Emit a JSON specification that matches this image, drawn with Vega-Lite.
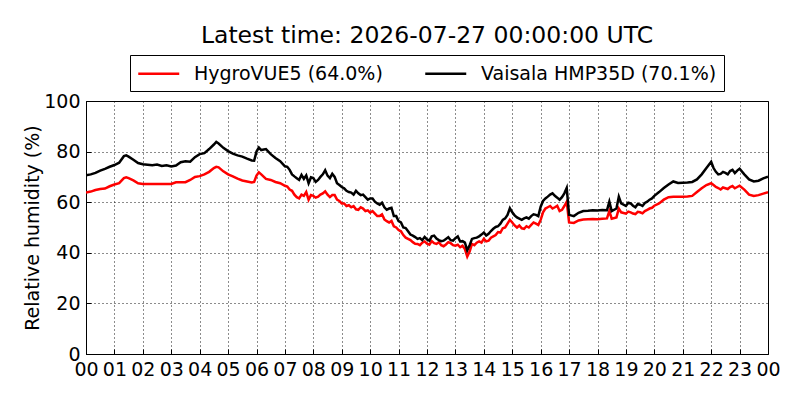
{
  "$schema": "https://vega.github.io/schema/vega-lite/v6.json",
  "autosize": {"type": "none"},
  "width": 682,
  "height": 253,
  "padding": {"left": 86, "top": 101, "right": 32, "bottom": 46},
  "background": "white",
  "config": {
    "font": "DejaVu Sans",
    "view": {"stroke": "black", "strokeWidth": 1}
  },
  "title": {
    "text": "Latest time: 2026-07-27 00:00:00 UTC",
    "font": "DejaVu Sans",
    "fontSize": 23.5,
    "fontWeight": "normal",
    "color": "black",
    "anchor": "middle",
    "baseline": "alphabetic",
    "offset": -11.5
  },
  "data": {
    "values": [
      {"m": 0, "h": 63.8, "v": 70.6},
      {"m": 10, "h": 64.2, "v": 71.0},
      {"m": 20, "h": 64.8, "v": 71.6},
      {"m": 30, "h": 65.2, "v": 72.5},
      {"m": 40, "h": 65.4, "v": 73.2},
      {"m": 50, "h": 66.3, "v": 74.0},
      {"m": 60, "h": 67.0, "v": 74.7},
      {"m": 70, "h": 67.5, "v": 75.6},
      {"m": 80, "h": 69.5, "v": 78.2},
      {"m": 85, "h": 69.8, "v": 78.5},
      {"m": 90, "h": 69.5, "v": 78.0},
      {"m": 100, "h": 68.6, "v": 76.8},
      {"m": 110, "h": 67.5, "v": 75.5},
      {"m": 120, "h": 67.2, "v": 75.0},
      {"m": 130, "h": 67.2, "v": 74.8},
      {"m": 140, "h": 67.2, "v": 74.6},
      {"m": 150, "h": 67.2, "v": 74.9},
      {"m": 160, "h": 67.2, "v": 74.3},
      {"m": 170, "h": 67.2, "v": 74.6},
      {"m": 180, "h": 67.2, "v": 74.1},
      {"m": 190, "h": 67.9, "v": 74.5},
      {"m": 200, "h": 67.9, "v": 75.8},
      {"m": 210, "h": 67.9, "v": 76.2},
      {"m": 220, "h": 68.8, "v": 76.0},
      {"m": 230, "h": 70.0, "v": 77.8},
      {"m": 240, "h": 70.3, "v": 79.0},
      {"m": 250, "h": 71.0, "v": 79.4},
      {"m": 260, "h": 72.0, "v": 81.0},
      {"m": 270, "h": 73.5, "v": 82.8},
      {"m": 275, "h": 74.0, "v": 83.8},
      {"m": 280, "h": 73.8, "v": 83.2},
      {"m": 290, "h": 72.2, "v": 81.5},
      {"m": 300, "h": 71.0, "v": 80.2},
      {"m": 310, "h": 70.2, "v": 79.2},
      {"m": 320, "h": 69.3, "v": 78.5},
      {"m": 330, "h": 68.6, "v": 78.0},
      {"m": 340, "h": 68.2, "v": 77.2},
      {"m": 350, "h": 67.8, "v": 76.5},
      {"m": 355, "h": 68.0, "v": 76.4},
      {"m": 360, "h": 70.5, "v": 80.0},
      {"m": 365, "h": 71.8, "v": 81.6},
      {"m": 370, "h": 71.0, "v": 80.6},
      {"m": 380, "h": 69.2, "v": 81.0},
      {"m": 390, "h": 68.8, "v": 79.0},
      {"m": 400, "h": 68.0, "v": 77.5},
      {"m": 410, "h": 67.5, "v": 76.2},
      {"m": 420, "h": 66.5, "v": 74.2},
      {"m": 425, "h": 66.2, "v": 74.0},
      {"m": 430, "h": 65.0, "v": 72.8},
      {"m": 435, "h": 64.5, "v": 71.0},
      {"m": 440, "h": 63.0, "v": 70.2},
      {"m": 445, "h": 62.0, "v": 69.5},
      {"m": 450, "h": 61.5, "v": 68.8},
      {"m": 455, "h": 63.0, "v": 70.8},
      {"m": 460, "h": 62.5, "v": 69.2},
      {"m": 465, "h": 64.0, "v": 70.6},
      {"m": 470, "h": 61.0, "v": 67.5},
      {"m": 475, "h": 62.8, "v": 69.8},
      {"m": 480, "h": 62.5, "v": 69.5},
      {"m": 485, "h": 61.8, "v": 68.0},
      {"m": 490, "h": 62.2, "v": 68.8},
      {"m": 495, "h": 63.0, "v": 70.0},
      {"m": 500, "h": 63.5, "v": 71.0},
      {"m": 505, "h": 64.3, "v": 72.6},
      {"m": 510, "h": 63.0, "v": 70.5},
      {"m": 515, "h": 62.0, "v": 69.5},
      {"m": 520, "h": 62.8, "v": 71.2},
      {"m": 525, "h": 62.8, "v": 70.0},
      {"m": 530, "h": 61.0, "v": 67.5},
      {"m": 535, "h": 60.5, "v": 66.8},
      {"m": 540, "h": 59.5, "v": 66.0},
      {"m": 545, "h": 59.5, "v": 65.5},
      {"m": 550, "h": 58.5, "v": 64.5},
      {"m": 555, "h": 58.8, "v": 64.0},
      {"m": 560, "h": 58.0, "v": 63.8},
      {"m": 565, "h": 58.5, "v": 63.0},
      {"m": 570, "h": 57.2, "v": 64.5},
      {"m": 575, "h": 57.0, "v": 63.5},
      {"m": 580, "h": 58.0, "v": 62.8},
      {"m": 585, "h": 57.5, "v": 63.0},
      {"m": 590, "h": 56.5, "v": 62.0},
      {"m": 595, "h": 56.8, "v": 61.0},
      {"m": 600, "h": 55.9, "v": 61.5},
      {"m": 605, "h": 56.5, "v": 61.5},
      {"m": 610, "h": 55.5, "v": 60.2},
      {"m": 615, "h": 54.5, "v": 59.5},
      {"m": 620, "h": 54.5, "v": 59.0},
      {"m": 625, "h": 55.2, "v": 59.8},
      {"m": 630, "h": 53.2, "v": 58.0},
      {"m": 635, "h": 52.5, "v": 57.0},
      {"m": 640, "h": 52.0, "v": 57.5},
      {"m": 645, "h": 52.6, "v": 57.8},
      {"m": 650, "h": 50.5, "v": 54.5},
      {"m": 655, "h": 50.0, "v": 54.5},
      {"m": 660, "h": 49.0, "v": 52.5},
      {"m": 665, "h": 48.5, "v": 52.0},
      {"m": 670, "h": 47.0, "v": 50.0},
      {"m": 675, "h": 46.0, "v": 49.8},
      {"m": 680, "h": 45.5, "v": 48.5},
      {"m": 685, "h": 45.0, "v": 47.2},
      {"m": 690, "h": 44.2, "v": 46.8},
      {"m": 695, "h": 43.6, "v": 46.2},
      {"m": 700, "h": 43.5, "v": 45.5},
      {"m": 705, "h": 43.0, "v": 45.8},
      {"m": 710, "h": 44.0, "v": 45.0},
      {"m": 715, "h": 44.5, "v": 46.3},
      {"m": 720, "h": 43.6, "v": 45.3},
      {"m": 725, "h": 43.2, "v": 44.8},
      {"m": 730, "h": 44.6, "v": 46.5},
      {"m": 735, "h": 43.8, "v": 46.8},
      {"m": 740, "h": 43.5, "v": 45.6},
      {"m": 745, "h": 44.2, "v": 45.0},
      {"m": 750, "h": 43.0, "v": 44.6},
      {"m": 755, "h": 42.6, "v": 44.8},
      {"m": 760, "h": 43.3, "v": 45.5},
      {"m": 765, "h": 44.2, "v": 46.2},
      {"m": 770, "h": 43.8, "v": 45.0},
      {"m": 775, "h": 43.0, "v": 44.8},
      {"m": 780, "h": 42.8, "v": 45.8},
      {"m": 785, "h": 43.2, "v": 46.5},
      {"m": 790, "h": 42.2, "v": 44.5},
      {"m": 795, "h": 42.8, "v": 44.6},
      {"m": 800, "h": 41.5, "v": 44.0},
      {"m": 805, "h": 38.5, "v": 41.0},
      {"m": 810, "h": 40.5, "v": 43.0},
      {"m": 815, "h": 43.5, "v": 45.5},
      {"m": 820, "h": 43.0, "v": 45.8},
      {"m": 825, "h": 44.0, "v": 46.0},
      {"m": 830, "h": 44.5, "v": 46.5},
      {"m": 835, "h": 44.0, "v": 47.2},
      {"m": 840, "h": 45.5, "v": 48.0},
      {"m": 845, "h": 44.5, "v": 46.8},
      {"m": 850, "h": 44.8, "v": 47.5},
      {"m": 855, "h": 46.0, "v": 48.6},
      {"m": 860, "h": 46.5, "v": 49.5},
      {"m": 865, "h": 47.0, "v": 50.2},
      {"m": 870, "h": 48.2, "v": 50.5},
      {"m": 875, "h": 48.0, "v": 51.5},
      {"m": 880, "h": 49.7, "v": 53.0},
      {"m": 885, "h": 50.0, "v": 53.6},
      {"m": 890, "h": 51.5, "v": 55.0},
      {"m": 895, "h": 53.0, "v": 57.6},
      {"m": 900, "h": 52.0, "v": 56.0},
      {"m": 905, "h": 50.8, "v": 54.8},
      {"m": 910, "h": 50.0, "v": 54.0},
      {"m": 915, "h": 50.8, "v": 53.5},
      {"m": 920, "h": 49.7, "v": 53.0},
      {"m": 925, "h": 49.5, "v": 53.6},
      {"m": 930, "h": 50.5, "v": 54.0},
      {"m": 935, "h": 50.0, "v": 53.5},
      {"m": 940, "h": 51.0, "v": 54.5},
      {"m": 945, "h": 52.0, "v": 55.2},
      {"m": 950, "h": 51.5, "v": 55.0},
      {"m": 955, "h": 51.0, "v": 54.5},
      {"m": 960, "h": 53.0, "v": 58.2},
      {"m": 965, "h": 56.0, "v": 60.5},
      {"m": 970, "h": 57.5, "v": 61.5},
      {"m": 975, "h": 58.0, "v": 62.2},
      {"m": 980, "h": 58.5, "v": 63.0},
      {"m": 985, "h": 57.5, "v": 63.5},
      {"m": 990, "h": 58.0, "v": 62.5},
      {"m": 995, "h": 58.6, "v": 61.8},
      {"m": 1000, "h": 56.5, "v": 61.0},
      {"m": 1005, "h": 57.0, "v": 62.0},
      {"m": 1010, "h": 58.5, "v": 63.5},
      {"m": 1015, "h": 60.2, "v": 65.6},
      {"m": 1020, "h": 52.0, "v": 55.0},
      {"m": 1030, "h": 51.8, "v": 54.5},
      {"m": 1040, "h": 52.8, "v": 55.8},
      {"m": 1050, "h": 53.2, "v": 56.5},
      {"m": 1060, "h": 53.3, "v": 56.6},
      {"m": 1070, "h": 53.4, "v": 56.8},
      {"m": 1080, "h": 53.3, "v": 56.7},
      {"m": 1090, "h": 53.5, "v": 56.9},
      {"m": 1100, "h": 53.6, "v": 56.8},
      {"m": 1105, "h": 56.5, "v": 60.2},
      {"m": 1110, "h": 53.5, "v": 56.5},
      {"m": 1120, "h": 54.0, "v": 57.5},
      {"m": 1125, "h": 57.5, "v": 62.2},
      {"m": 1130, "h": 56.0, "v": 59.5},
      {"m": 1140, "h": 55.5, "v": 58.5},
      {"m": 1145, "h": 56.3, "v": 59.8},
      {"m": 1150, "h": 56.0, "v": 59.5},
      {"m": 1155, "h": 55.5, "v": 58.6},
      {"m": 1160, "h": 55.3, "v": 58.0},
      {"m": 1165, "h": 56.2, "v": 59.3},
      {"m": 1170, "h": 56.0, "v": 59.0},
      {"m": 1175, "h": 55.6, "v": 58.5},
      {"m": 1180, "h": 56.5, "v": 59.7},
      {"m": 1185, "h": 57.0, "v": 60.2},
      {"m": 1190, "h": 57.5, "v": 61.0},
      {"m": 1195, "h": 57.8, "v": 61.5},
      {"m": 1200, "h": 58.6, "v": 62.5},
      {"m": 1210, "h": 59.5, "v": 64.0},
      {"m": 1220, "h": 61.0, "v": 65.6},
      {"m": 1230, "h": 62.0, "v": 67.0},
      {"m": 1240, "h": 62.2, "v": 68.2},
      {"m": 1250, "h": 62.2, "v": 67.6},
      {"m": 1260, "h": 62.2, "v": 67.7},
      {"m": 1270, "h": 62.3, "v": 67.8},
      {"m": 1280, "h": 62.5, "v": 68.0},
      {"m": 1290, "h": 64.0, "v": 69.0},
      {"m": 1300, "h": 65.5, "v": 71.0},
      {"m": 1310, "h": 66.8, "v": 73.5},
      {"m": 1320, "h": 67.5, "v": 76.0},
      {"m": 1325, "h": 66.8, "v": 73.5},
      {"m": 1330, "h": 66.0, "v": 72.0},
      {"m": 1335, "h": 65.6, "v": 71.0},
      {"m": 1340, "h": 65.0, "v": 71.2},
      {"m": 1345, "h": 65.8, "v": 72.0},
      {"m": 1350, "h": 65.5, "v": 71.6},
      {"m": 1355, "h": 65.2, "v": 71.0},
      {"m": 1360, "h": 66.0, "v": 72.3},
      {"m": 1365, "h": 66.4, "v": 72.8},
      {"m": 1370, "h": 65.5, "v": 71.5},
      {"m": 1375, "h": 66.0, "v": 72.5},
      {"m": 1380, "h": 66.5, "v": 73.2},
      {"m": 1390, "h": 65.0, "v": 71.0},
      {"m": 1400, "h": 63.0, "v": 69.0},
      {"m": 1410, "h": 62.5, "v": 68.2},
      {"m": 1420, "h": 62.8, "v": 68.5},
      {"m": 1430, "h": 63.4, "v": 69.4},
      {"m": 1440, "h": 64.0, "v": 70.1}
    ]
  },
  "encoding": {
    "x": {
      "field": "m",
      "type": "quantitative",
      "scale": {"domain": [0, 1440], "nice": false, "zero": false},
      "axis": {
        "title": null,
        "values": [0, 60, 120, 180, 240, 300, 360, 420, 480, 540, 600, 660, 720, 780, 840, 900, 960, 1020, 1080, 1140, 1200, 1260, 1320, 1380, 1440],
        "labelExpr": "datum.value == 1440 ? '00' : (datum.value < 600 ? '0' : '') + (datum.value / 60)",
        "labelOverlap": false,
        "labelFlush": false,
        "labelFont": "DejaVu Sans",
        "labelFontSize": 19,
        "labelColor": "black",
        "labelPadding": 11,
        "domain": false,
        "grid": true,
        "gridColor": "black",
        "gridDash": [1, 3],
        "gridWidth": 1,
        "gridOpacity": 0.9,
        "ticks": true,
        "tickSize": -5,
        "tickColor": "black",
        "tickWidth": 1
      }
    }
  },
  "layer": [
    {
      "mark": {"type": "line", "strokeWidth": 2.5, "clip": true},
      "encoding": {
        "y": {
          "field": "h",
          "type": "quantitative",
          "scale": {"domain": [0, 100], "nice": false},
          "title": "Relative humidity (%)",
          "axis": {
            "values": [0, 20, 40, 60, 80, 100],
            "labelFont": "DejaVu Sans",
            "labelFontSize": 19,
            "labelColor": "black",
            "labelPadding": 11,
            "labelOverlap": false,
            "labelFlush": false,
            "domain": false,
            "grid": true,
            "gridColor": "black",
            "gridDash": [1, 3],
            "gridWidth": 1,
            "gridOpacity": 0.9,
            "tickSize": -5,
            "tickColor": "black",
            "tickWidth": 1,
            "titleFont": "DejaVu Sans",
            "titleFontSize": 19,
            "titleFontWeight": "normal",
            "titleColor": "black",
            "titleX": -48,
            "titleY": 126.5,
            "titleAngle": -90,
            "titleAlign": "center",
            "titleBaseline": "alphabetic"
          }
        },
        "color": {
          "datum": "HygroVUE5 (64.0%)",
          "type": "nominal",
          "scale": {"domain": ["HygroVUE5 (64.0%)", "Vaisala HMP35D (70.1%)"], "range": ["#ff0000", "#000000"]},
          "legend": {
            "title": null,
            "orient": "none",
            "legendX": 44,
            "legendY": -46,
            "direction": "horizontal",
            "symbolType": "M-1,0H3",
            "symbolSize": 420,
            "symbolStrokeWidth": 2.5,
            "labelOffset": 34,
            "columnPadding": 37,
            "labelFont": "DejaVu Sans",
            "labelFontSize": 19,
            "labelColor": "black",
            "labelLimit": 400,
            "padding": 7,
            "strokeColor": "black",
            "fillColor": "white",
            "cornerRadius": 0
          }
        }
      }
    },
    {
      "mark": {"type": "line", "strokeWidth": 2.5, "clip": true},
      "encoding": {
        "y": {
          "field": "v",
          "type": "quantitative",
          "title": "Relative humidity (%)"
        },
        "color": {"datum": "Vaisala HMP35D (70.1%)", "type": "nominal"}
      }
    }
  ]
}
